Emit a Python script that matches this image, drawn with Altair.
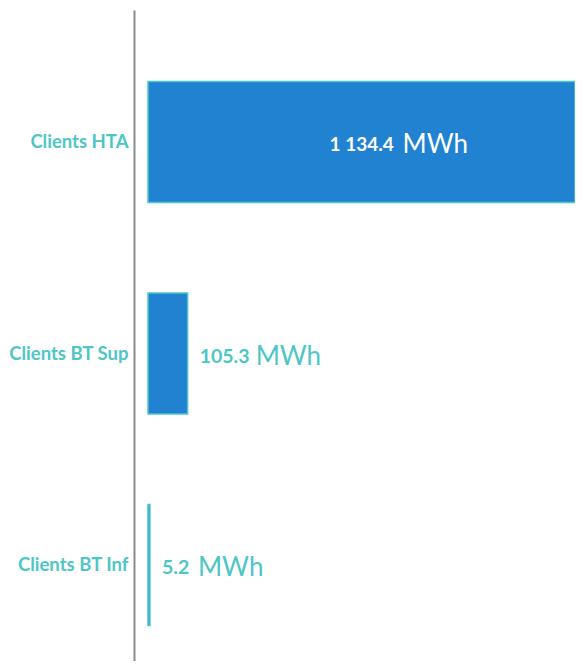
import altair as alt
import pandas as pd

categories = ["Clients HTA", "Clients BT Sup", "Clients BT Inf"]
values = [1134.4, 105.3, 5.2]
num_labels = ["1 134.4", "105.3", "5.2"]
unit_label = "MWh"

df = pd.DataFrame({"cat": categories, "value": values, "num": num_labels, "unit": [unit_label] * 3})

BLUE = "#2282D2"
TEAL = "#4EC6C6"
W = 441
H = 651
X0 = 14
U = 1134.4 / (W - X0)  # data units per pixel

y_enc = alt.Y("cat:N", sort=categories, title=None,
              scale=alt.Scale(paddingInner=0.428, paddingOuter=0.338, range=[0, 687]),
              axis=alt.Axis(domain=True, domainColor="#8C8C8C", domainWidth=2, ticks=False,
                            labelColor=TEAL, labelFont="Lato", labelFontWeight="bold",
                            labelFontSize=18.5, labelPadding=6, grid=False))
x_scale = alt.Scale(domain=[0, 1134.4], range=[X0, W], nice=False, zero=True)

base = alt.Chart(df)

bars = base.mark_bar(fill=BLUE, stroke=TEAL, strokeWidth=1.5).encode(
    y=y_enc,
    x=alt.X("value:Q", scale=x_scale, axis=None),
)

inside = base.transform_filter("datum.value > 500").transform_calculate(mid="datum.value / 2")
in_num = inside.mark_text(align="left", baseline="middle", dx=-32, dy=3, color="white",
                          font="Lato", fontWeight="bold", fontSize=19).encode(
    y=alt.Y("cat:N", sort=categories), x=alt.X("mid:Q", scale=x_scale), text="num:N")
in_unit = inside.mark_text(align="left", baseline="middle", dx=41, dy=3, color="white",
                           font="Lato", fontSize=26).encode(
    y=alt.Y("cat:N", sort=categories), x=alt.X("mid:Q", scale=x_scale), text="unit:N")

outside = base.transform_filter("datum.value <= 500").transform_calculate(
    ux=f"datum.value + (12 + (length(datum.num) - 1) * 10.0 + 5 + 11) * {U}")
out_num = outside.mark_text(align="left", baseline="middle", dx=12, dy=3, color=TEAL,
                            font="Lato", fontWeight="bold", fontSize=19.5).encode(
    y=alt.Y("cat:N", sort=categories), x=alt.X("value:Q", scale=x_scale), text="num:N")
out_unit = outside.mark_text(align="left", baseline="middle", dx=0, dy=3, color=TEAL,
                             font="Lato", fontSize=26).encode(
    y=alt.Y("cat:N", sort=categories), x=alt.X("ux:Q", scale=x_scale), text="unit:N")

chart = alt.layer(bars, in_num, in_unit, out_num, out_unit).properties(
    width=W, height=H,
    padding={"left": 126, "top": 2, "right": 0, "bottom": 0},
    autosize=alt.AutoSizeParams(type="none"),
    background="white",
).configure_view(stroke=None)

chart.save("out.html", embed_options={"renderer": "svg", "actions": False})
